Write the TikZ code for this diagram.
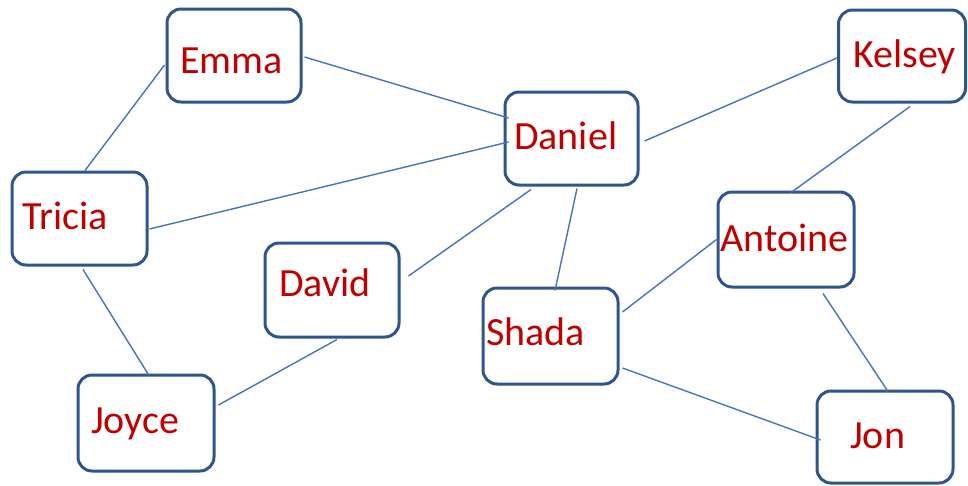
\documentclass[tikz,border=0pt]{standalone}
\usepackage{fontspec}
\setmainfont{Carlito}
\definecolor{boxblue}{RGB}{47,85,143}
\definecolor{linkblue}{RGB}{68,114,196}
\definecolor{namered}{RGB}{192,0,0}
\begin{document}
\begin{tikzpicture}[x=1pt,y=-1pt,
  personbox/.style={draw=boxblue,line width=3pt,rounded corners=14pt,fill=white,inner sep=0pt},
  nametext/.style={anchor=base west,inner sep=0pt,text=namered,font=\fontsize{40}{48}\selectfont},
  link/.style={draw=linkblue,line width=1.4pt}]
\useasboundingbox (0,0) rectangle (968,485);
% boxes
\node[personbox,minimum width=134pt,minimum height=93pt] (emma) at (234,55.5) {};
\node[personbox,minimum width=135pt,minimum height=93pt] (tricia) at (79.5,218.5) {};
\node[personbox,minimum width=133pt,minimum height=93pt] (daniel) at (571.5,138.5) {};
\node[personbox,minimum width=127pt,minimum height=92pt] (kelsey) at (902,56) {};
\node[personbox,minimum width=136pt,minimum height=95pt] (antoine) at (786,239.5) {};
\node[personbox,minimum width=136pt,minimum height=92pt] (jon) at (885,437) {};
\node[personbox,minimum width=134pt,minimum height=94pt] (david) at (332,290) {};
\node[personbox,minimum width=135pt,minimum height=96pt] (shada) at (550.5,336) {};
\node[personbox,minimum width=136pt,minimum height=96pt] (joyce) at (146,423) {};
% names
\node[nametext] (temma) at (180,73) {Emma};
\node[nametext] (ttricia) at (22,229) {Tricia};
\node[nametext] (tdaniel) at (514,149) {Daniel};
\node[nametext] (tkelsey) at (853,67) {Kelsey};
\node[nametext] (tantoine) at (720,251) {Antoine};
\node[nametext] (tjon) at (850,448) {Jon};
\node[nametext] (tdavid) at (279,296) {David};
\node[nametext] (tshada) at (486,345) {Shada};
\node[nametext] (tjoyce) at (91,433) {Joyce};
% connectors
\draw[link] ([xshift=-1pt,yshift=-9.5pt]emma.west) -- ([xshift=5.5pt]tricia.north);
\draw[link] ([xshift=2pt,yshift=-1.5pt]emma.east) -- ([xshift=5pt,yshift=20.5pt]daniel.west);
\draw[link] ([xshift=1pt,yshift=-10.5pt]tricia.east) -- ([xshift=5pt,yshift=-3.5pt]daniel.west);
\draw[link] ([xshift=5pt,yshift=-2.5pt]daniel.east) -- ([yshift=-2pt]kelsey.west);
\draw[link] ([xshift=-40.5pt,yshift=-3pt]daniel.south) -- ([xshift=8pt,yshift=14pt]david.east);
\draw[link] ([xshift=5.5pt,yshift=-2pt]daniel.south) -- ([xshift=4.5pt,yshift=-4pt]shada.north);
\draw[link] ([xshift=8pt,yshift=-3pt]kelsey.south) -- ([xshift=5pt,yshift=-2pt]antoine.north);
\draw[link] ([xshift=3pt,yshift=24pt]shada.east) -- (antoine.west);
\draw[link] ([xshift=37pt,yshift=-5pt]antoine.south) -- ([xshift=3pt,yshift=-2pt]jon.north);
\draw[link] ([xshift=3pt,yshift=-32pt]shada.east) -- ([xshift=5pt,yshift=-3pt]jon.west);
\draw[link] ([xshift=3.5pt,yshift=-3pt]tricia.south) -- ([xshift=3pt,yshift=-2pt]joyce.north);
\draw[link] ([xshift=5pt,yshift=-1pt]david.south) -- ([xshift=3pt,yshift=18pt]joyce.east);
\end{tikzpicture}
\end{document}
